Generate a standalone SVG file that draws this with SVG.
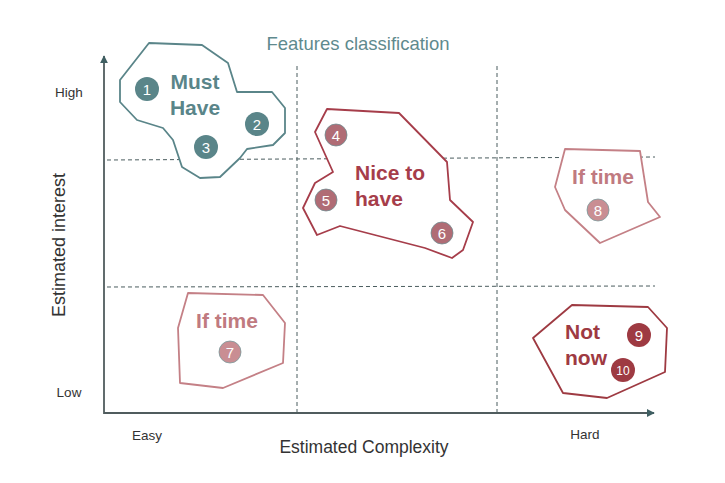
<svg xmlns="http://www.w3.org/2000/svg" width="725" height="483" viewBox="0 0 725 483">
<style>
text{font-family:"Liberation Sans",Arial,sans-serif}
.grid{stroke:#4a5c5e;stroke-width:1;stroke-dasharray:4 3;fill:none}
.axis{stroke:#505c5e;stroke-width:1.8;fill:none}
.lbl{font-size:13.5px;fill:#333}
.ttl{font-size:17.5px;fill:#333}
.grp{fill:#fff;stroke-width:1.8;stroke-linejoin:round}
.big{font-size:21px;font-weight:bold}
.num{font-size:15px;fill:#fff;text-anchor:middle}
</style>
<defs>
<marker id="ah" viewBox="0 0 10 10" refX="9" refY="5" markerWidth="8" markerHeight="8" markerUnits="userSpaceOnUse" orient="auto">
<path d="M0,0 L10,5 L0,10 Z" fill="#3f5f62"/>
</marker>
</defs>
<rect width="725" height="483" fill="#fff"/>
<g id="grid">
<line class="grid" x1="107" y1="160" x2="655" y2="157"/>
<line class="grid" x1="107" y1="287" x2="655" y2="286"/>
<line class="grid" x1="297" y1="66" x2="297" y2="413"/>
<line class="grid" x1="497" y1="66" x2="497" y2="413"/>
</g>
<g id="axes">
<line class="axis" x1="104" y1="414" x2="104" y2="56" marker-end="url(#ah)"/>
<line class="axis" x1="104" y1="413" x2="654" y2="413" marker-end="url(#ah)"/>
</g>
<text x="358" y="50" text-anchor="middle" style="font-size:18.5px;fill:#5f8a8e">Features classification</text>
<text class="lbl" x="69" y="97" text-anchor="middle">High</text>
<text class="lbl" x="69" y="397" text-anchor="middle">Low</text>
<text class="lbl" x="147" y="440" text-anchor="middle">Easy</text>
<text class="lbl" x="585" y="439" text-anchor="middle">Hard</text>
<text class="ttl" x="364" y="453" text-anchor="middle">Estimated Complexity</text>
<text class="ttl" x="0" y="0" text-anchor="middle" transform="translate(65,245) rotate(-90)" style="font-size:18px">Estimated interest</text>
<g id="must-have">
<polygon class="grp" stroke="#5a8589" points="149,43 202,45 228,63 237,92 272,92 285,108 285,133 273,145 247,149 240,158 220,177 200,178 182,167 173,140 163,128 137,120 120,102 120,80"/>
<text class="big" x="195" y="89" text-anchor="middle" fill="#5a8589">Must</text>
<text class="big" x="195" y="115" text-anchor="middle" fill="#5a8589">Have</text>
<circle cx="147" cy="89" r="12" fill="#5a8589"/><text class="num" x="147" y="94.5">1</text>
<circle cx="257" cy="124" r="12" fill="#5a8589"/><text class="num" x="257" y="129.5">2</text>
<circle cx="206" cy="147" r="12" fill="#5a8589"/><text class="num" x="206" y="152.5">3</text>
</g>
<g id="nice-to-have">
<polygon class="grp" stroke="#a63d4a" points="327,109 399,113 447,162 450,200 473,222 463,250 452,258 425,248 340,226 317,235 303,208 315,183 333,172 315,132"/>
<text class="big" x="355" y="180" fill="#a63d4a">Nice to</text>
<text class="big" x="355" y="206" fill="#a63d4a">have</text>
<circle cx="336" cy="135" r="11" fill="#b06c75" stroke="#6f8d90" stroke-width="0.8"/><text class="num" x="336" y="140.5">4</text>
<circle cx="326" cy="200" r="11" fill="#b06c75" stroke="#6f8d90" stroke-width="0.8"/><text class="num" x="326" y="205.5">5</text>
<circle cx="442" cy="233" r="11" fill="#b06c75" stroke="#6f8d90" stroke-width="0.8"/><text class="num" x="442" y="238.5">6</text>
</g>
<g id="if-time-8">
<polygon class="grp" stroke="#c48086" points="565,149 640,151 648,202 660,217 600,243 565,210 555,187"/>
<text class="big" x="603" y="184" text-anchor="middle" fill="#c07a80">If time</text>
<circle cx="598" cy="210" r="11" fill="#c98e93" stroke="#7a9a9c" stroke-width="0.8"/><text class="num" x="598" y="215.5">8</text>
</g>
<g id="if-time-7">
<polygon class="grp" stroke="#c48086" points="188,293 263,295 285,323 283,363 223,388 180,383 178,328"/>
<text class="big" x="227" y="328" text-anchor="middle" fill="#c07a80">If time</text>
<circle cx="230" cy="352" r="11" fill="#c98e93" stroke="#7a9a9c" stroke-width="0.8"/><text class="num" x="230" y="357.5">7</text>
</g>
<g id="not-now">
<polygon class="grp" stroke="#9e3a42" points="572,305 648,307 667,328 665,372 607,398 563,393 533,338"/>
<text class="big" x="565" y="339" fill="#9e3a42">Not</text>
<text class="big" x="565" y="365" fill="#9e3a42">now</text>
<circle cx="639" cy="335" r="12" fill="#9e3a42"/><text class="num" x="639" y="340.5">9</text>
<circle cx="623" cy="370" r="12" fill="#9e3a42"/><text class="num" x="623" y="374.5" style="font-size:12px">10</text>
</g>
</svg>
